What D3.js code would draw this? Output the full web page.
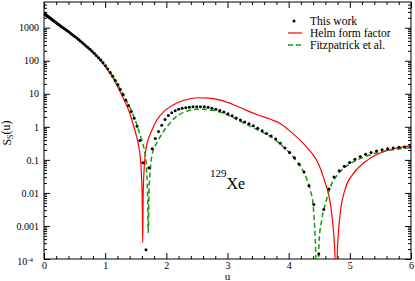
<!DOCTYPE html>
<html>
<head>
<meta charset="utf-8">
<script src="https://cdn.jsdelivr.net/npm/d3@7"></script>
<style>
  body { margin: 0; background: #fff; }
  svg { display: block; font-family: "Liberation Serif", "Times New Roman", serif; }
</style>
</head>
<body>
<div class="sandbox"></div>
<script>
// "This work" points
var dotU = [0, 0.0004, 0.0015, 0.0033, 0.0059, 0.0093, 0.0134, 0.0182, 0.0238, 0.0301,
  0.0371, 0.0449, 0.0535, 0.0628, 0.0728, 0.0835, 0.0951, 0.1073, 0.1203, 0.134,
  0.1485, 0.1637, 0.1797, 0.1964, 0.2139, 0.2321, 0.251, 0.2707, 0.2911, 0.3123,
  0.3342, 0.3568, 0.3802, 0.4043, 0.4292, 0.4548, 0.4812, 0.5083, 0.5362, 0.5648,
  0.5941, 0.6241, 0.655, 0.6866, 0.7188, 0.7519, 0.7857, 0.8202, 0.8555, 0.8915,
  0.9283, 0.9658, 1.004, 1.043, 1.0827, 1.1232, 1.1644, 1.2063, 1.249, 1.2925,
  1.3367, 1.3816, 1.4273, 1.4737, 1.5208, 1.5687, 1.617, 1.667, 1.717, 1.768,
  1.819, 1.872, 1.925, 1.979, 2.033, 2.089, 2.145, 2.201, 2.259, 2.317,
  2.376, 2.436, 2.497, 2.558, 2.62, 2.683, 2.746, 2.81, 2.875, 2.941,
  3.008, 3.075, 3.143, 3.211, 3.281, 3.351, 3.422, 3.494, 3.566, 3.639,
  3.713, 3.788, 3.863, 3.939, 4.016, 4.094, 4.172, 4.251, 4.331, 4.411,
  4.493, 4.575, 4.658, 4.741, 4.826, 4.91, 4.996, 5.083, 5.17, 5.258,
  5.347, 5.436, 5.526, 5.617, 5.709, 5.802, 5.895, 5.989];
var dotS = [2690, 2690, 2690, 2660, 2630, 2630, 2570, 2540, 2510, 2450,
  2400, 2340, 2260, 2190, 2140, 2040, 2000, 1900, 1820, 1740,
  1660, 1585, 1510, 1430, 1350, 1275, 1200, 1120, 1050, 989,
  923, 861, 804, 750, 692, 631, 582, 537, 490, 442,
  398, 355, 316, 282, 251, 221, 193, 168, 145, 124,
  105, 87.1, 70.8, 56.2, 44.2, 33.9, 25.4, 19.1, 13.5, 9.44,
  6.53, 4.42, 2.92, 1.82, 1.05, 0.389, 0.0813, 0.000191, 0.0575, 0.219,
  0.447, 0.724, 1.12, 1.66, 2.19, 2.69, 3.09, 3.39, 3.63, 3.80,
  3.94, 4.03, 4.07, 4.07, 4.03, 3.89, 3.67, 3.43, 3.13, 2.82,
  2.48, 2.16, 1.86, 1.62, 1.41, 1.23, 1.07, 0.902, 0.759, 0.631,
  0.525, 0.427, 0.316, 0.229, 0.166, 0.115, 0.0741, 0.0427, 0.0166, 0.00447,
  0.000141, 0.00316, 0.0132, 0.0302, 0.0468, 0.0646, 0.0832, 0.105, 0.126, 0.148,
  0.166, 0.186, 0.204, 0.219, 0.229, 0.240, 0.245, 0.251];

// Helm form factor
var helmU = [0, 0.2, 0.4, 0.6, 0.8, 1.0, 1.1, 1.2, 1.3, 1.4, 1.45, 1.5, 1.54, 1.57, 1.595, 1.605,
  1.613, 1.621, 1.631, 1.655, 1.685, 1.72, 1.76, 1.84, 1.98, 2.17, 2.39, 2.52, 2.7, 2.9,
  3.1, 3.31, 3.5, 3.7, 3.86, 4.02, 4.19, 4.35, 4.46, 4.59, 4.68, 4.73, 4.755, 4.775,
  4.795, 4.815, 4.85, 4.92, 5.06, 5.22, 5.44, 5.71, 6.0];
var helmS = [2690, 1410, 759, 389, 178, 67.6, 36.3, 17.0, 7.08, 2.63, 1.32, 0.631, 0.316, 0.141, 0.0316, 0.00794,
  0.000316, 0.00794, 0.0316, 0.141, 0.316, 0.501, 0.759, 1.55, 3.16, 5.25, 7.08, 7.59, 7.41, 6.31,
  4.68, 3.16, 2.29, 1.70, 1.26, 0.741, 0.389, 0.186, 0.0955, 0.0224, 0.00501, 0.000794, 0.000158, 0.00001,
  0.000158, 0.000708, 0.00316, 0.0126, 0.0389, 0.0794, 0.145, 0.214, 0.269];

// Fitzpatrick et al.
var fitzU = [0, 0.2, 0.4, 0.6, 0.8, 1.0, 1.1, 1.2, 1.3, 1.4, 1.45, 1.5, 1.55, 1.6, 1.645, 1.675,
  1.693, 1.705, 1.717, 1.74, 1.78, 1.84, 1.9, 1.96, 2.03, 2.12, 2.22, 2.39, 2.5, 2.62,
  2.75, 2.9, 3.0, 3.2, 3.4, 3.6, 3.8, 3.9, 4.0, 4.1, 4.2, 4.3, 4.36, 4.4,
  4.435, 4.467, 4.5, 4.54, 4.62, 4.69, 4.76, 4.83, 4.91, 5.0, 5.1, 5.2, 5.3, 5.4,
  5.5, 5.6, 5.7, 5.8, 5.9, 6.0];
var fitzS = [2690, 1410, 759, 389, 182, 72.4, 39.8, 20.0, 9.12, 3.98, 2.45, 1.45, 0.759, 0.380, 0.178, 0.0562,
  0.01, 0.000631, 0.01, 0.0562, 0.178, 0.316, 0.501, 0.759, 1.12, 1.74, 2.40, 3.16, 3.39, 3.39,
  3.16, 2.69, 2.29, 1.51, 0.977, 0.646, 0.380, 0.263, 0.174, 0.107, 0.0603, 0.0251, 0.0112, 0.00437,
  0.000398, 0.00001, 0.000398, 0.00151, 0.00631, 0.0166, 0.0282, 0.0417, 0.0575, 0.0759, 0.0955, 0.115, 0.135, 0.155,
  0.174, 0.191, 0.204, 0.214, 0.224, 0.234];

var xTicks = [0, 1, 2, 3, 4, 5, 6];
var yTicks = [1e-4, 0.001, 0.01, 0.1, 1, 10, 100, 1000];
var yTickLabels = ["10", "0.001", "0.01", "0.1", "1", "10", "100", "1000"];
var legendLabels = ["This work", "Helm form factor", "Fitzpatrick et al."];

var w = 415, h = 281;
var pl = 44, pr = 411, pt = 2, pb = 259;

var svg = d3.select(".sandbox").append("svg").attr("width", w).attr("height", h);

var x = d3.scaleLinear().domain([0, 6]).range([pl, pr]);
var y = d3.scaleLog().domain([1e-4, 6000]).range([pb, pt]);

var xMinor = d3.range(0, 6.001, 0.2).filter(d => Math.abs(d - Math.round(d)) > 1e-6);
var yMinor = [];
yTicks.forEach(t => {
  for (var m = 2; m <= 9; m++) if (t * m < 6000) yMinor.push(t * m);
});

svg.append("clipPath").attr("id", "plot")
  .append("rect").attr("x", pl).attr("y", pt).attr("width", pr - pl).attr("height", pb - pt);

// axes, ticks inward
var addAxis = (axis, tx, ty) => {
  var g = svg.append("g").attr("transform", "translate(" + tx + "," + ty + ")").call(axis);
  g.select(".domain").remove();
  g.selectAll("line").attr("stroke", "#000");
  g.selectAll("text").attr("font-size", 10).attr("fill", "#000").attr("font-family", "Liberation Serif, serif");
  return g;
};

addAxis(d3.axisBottom(x).tickValues(xTicks).tickSize(-6).tickPadding(3).tickFormat(d3.format("d")), 0, pb);
addAxis(d3.axisBottom(x).tickValues(xMinor).tickSize(-3).tickFormat(""), 0, pb);
addAxis(d3.axisTop(x).tickValues(xTicks).tickSize(-6).tickFormat(""), 0, pt);
addAxis(d3.axisTop(x).tickValues(xMinor).tickSize(-3).tickFormat(""), 0, pt);

var yAx = addAxis(d3.axisLeft(y).tickValues(yTicks).tickSize(-6).tickPadding(5)
  .tickFormat((d, i) => yTickLabels[i]), pl, 0);
addAxis(d3.axisLeft(y).tickValues(yMinor).tickSize(-3).tickFormat(""), pl, 0);
addAxis(d3.axisRight(y).tickValues(yTicks).tickSize(-6).tickFormat(""), pr, 0);
addAxis(d3.axisRight(y).tickValues(yMinor).tickSize(-3).tickFormat(""), pr, 0);

// 10^-4 label with superscript
yAx.selectAll(".tick text").filter(d => d === 1e-4)
  .attr("dx", -6).attr("dy", "0.55em")
  .append("tspan").attr("dy", "-0.45em").attr("font-size", 7).text("-4");

svg.append("rect")
  .attr("x", pl).attr("y", pt)
  .attr("width", pr - pl).attr("height", pb - pt)
  .attr("fill", "none").attr("stroke", "#000").attr("stroke-width", 1);

var line = d3.line().x(d => x(d[0])).y(d => y(d[1])).curve(d3.curveMonotoneX);
var plot = svg.append("g").attr("clip-path", "url(#plot)");

plot.append("path").datum(d3.zip(helmU, helmS))
  .attr("d", line).attr("fill", "none").attr("stroke", "#ff0000").attr("stroke-width", 1.2);

plot.append("path").datum(d3.zip(fitzU, fitzS))
  .attr("d", line).attr("fill", "none").attr("stroke", "#139a13").attr("stroke-width", 1.5)
  .attr("stroke-dasharray", "5,3");

plot.selectAll("circle").data(d3.zip(dotU, dotS)).enter().append("circle")
  .attr("cx", d => x(d[0])).attr("cy", d => y(d[1])).attr("r", 1.5).attr("fill", "#000");

// axis titles
svg.append("text").attr("x", x(3)).attr("y", 280).attr("text-anchor", "middle")
  .attr("font-size", 11).text("u");

var yl = svg.append("text").attr("transform", "translate(11,133) rotate(-90)")
  .attr("text-anchor", "middle").attr("font-size", 12);
yl.append("tspan").text("S");
yl.append("tspan").attr("font-size", 8).attr("dy", "0.3em").text("S");
yl.append("tspan").attr("dy", "-0.3em").text("(u)");

// nucleus label
var xe = svg.append("text").attr("x", 210).attr("y", 185).attr("font-size", 16);
xe.append("tspan").attr("font-size", 11).attr("dy", "-0.7em").text("129");
xe.append("tspan").attr("dy", "0.7em").text("Xe");

// legend
var lg = svg.append("g").attr("font-size", 11.5);
var rows = [21, 33, 45];
lg.append("circle").attr("cx", 294).attr("cy", rows[0]).attr("r", 1.5).attr("fill", "#000");
lg.append("line").attr("x1", 288).attr("x2", 302).attr("y1", rows[1]).attr("y2", rows[1])
  .attr("stroke", "#ff0000").attr("stroke-width", 1.2);
lg.append("line").attr("x1", 288).attr("x2", 302).attr("y1", rows[2]).attr("y2", rows[2])
  .attr("stroke", "#139a13").attr("stroke-width", 1.5).attr("stroke-dasharray", "5,3");
lg.selectAll(".lt").data(legendLabels).enter().append("text")
  .attr("class", "lt").attr("x", 310).attr("y", (d, i) => rows[i] + 4).text(d => d);
</script>
</body>
</html>
